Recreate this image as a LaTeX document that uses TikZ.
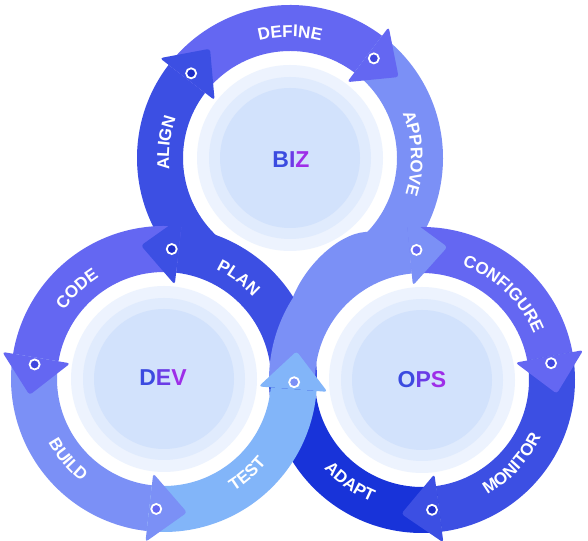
\documentclass[tikz,border=0pt]{standalone}
\usepackage{fontspec}
\setmainfont{Liberation Sans}
\usetikzlibrary{calc,decorations.text}
\definecolor{sky}{HTML}{82B5F9}
\definecolor{peri}{HTML}{7B90F6}
\definecolor{indi}{HTML}{6467F2}
\definecolor{royal}{HTML}{3C4FE3}
\definecolor{navy}{HTML}{1833D9}
\definecolor{dotroyal}{HTML}{3F47DD}
\definecolor{dotnavy}{HTML}{1E2EC6}
\definecolor{holeA}{HTML}{EDF3FE}
\definecolor{holeB}{HTML}{E0EBFD}
\definecolor{holeC}{HTML}{D2E2FC}
\definecolor{gA}{HTML}{3B4BE0}
\definecolor{gB}{HTML}{6A3CE6}
\definecolor{gC}{HTML}{9E2EE8}
\newcommand\lblfont{\fontsize{17}{17}\selectfont\bfseries}
\newcommand\ringseg[4]{\fill[#4] ($(#1)+(#2:107pt)$) arc[start angle=#2,end angle=#3,radius=107pt] -- ($(#1)+(#3:153pt)$) arc[start angle=#3,end angle=#2,radius=153pt] -- cycle;}
\newcommand\arrhead[5]{\fill[#4,rounded corners=3pt] ($(#1)+(#2:95pt)$) -- ($(#1)+(#2:130pt)+(#3:38pt)$) -- ($(#1)+(#2:164pt)$) -- cycle;
 \filldraw[fill=#5,draw=white,line width=1.8pt] ($(#1)+(#2:130pt)+(#3:7pt)$) circle[radius=5pt];}
\newcommand\holes[1]{\fill[holeA] (#1) circle[radius=93pt]; \fill[holeB] (#1) circle[radius=81pt]; \fill[holeC] (#1) circle[radius=70pt];}
\newcommand\arclbl[5]{\path[decorate,decoration={text along path,text align=center,text color=white,text={|\lblfont|#5}}] ($(#1)+(#2:#4)$) arc[start angle=#2,end angle=#3,radius=#4];}
\tikzset{hub/.style={font=\fontsize{23}{23}\selectfont\bfseries, inner sep=0pt}}
\begin{document}
\begin{tikzpicture}[x=1pt,y=1pt]
\useasboundingbox (0,0) rectangle (588,540);
\fill[white] (0,0) rectangle (588,540);
\coordinate (B) at (290,382);
\coordinate (D) at (164,161);
\coordinate (O) at (422,160);
\holes{B}
\holes{D}
\holes{O}
% BIZ ring
\ringseg{B}{228}{142.5}{royal}
\ringseg{B}{142.5}{53}{indi}
\ringseg{B}{53}{-47}{peri}
% DEV ring (part)
\ringseg{D}{-4.5}{83.5}{royal}
\ringseg{D}{83.5}{170.5}{indi}
\ringseg{D}{170.5}{263.5}{peri}
% OPS ring
\ringseg{O}{95.5}{10.5}{indi}
\ringseg{O}{10.5}{-82.5}{royal}
\ringseg{O}{-82.5}{-180}{navy}
\ringseg{O}{180}{95.5}{peri}
% junction between APPROVE and OPS
\fill[peri] (370,308) .. controls (345,310) and (308,280) .. (293,243) -- (322,232) -- (372,280) -- cycle;
% TEST on top
\ringseg{D}{263.5}{355.5}{sky}
% arrow heads
\arrhead{B}{142.5}{52.5}{royal}{dotnavy}
\arrhead{B}{53}{-37}{indi}{dotroyal}
\arrhead{D}{83.5}{173.5}{royal}{dotnavy}
\arrhead{D}{170.5}{260.5}{indi}{dotroyal}
\arrhead{D}{263.5}{353.5}{peri}{indi}
\arrhead{D}{355.5}{85.5}{sky}{peri}
\arrhead{O}{95.5}{5.5}{peri}{indi}
\arrhead{O}{10.5}{-79.5}{indi}{dotroyal}
\arrhead{O}{-82.5}{-172.5}{royal}{dotnavy}
% labels
\arclbl{B}{223}{123}{121pt}{ALIGN}
\arclbl{B}{140}{40}{121pt}{DEFINE}
\arclbl{B}{52}{-48}{121pt}{APPROVE}
\arclbl{D}{184}{84}{121pt}{CODE}
\arclbl{D}{103.6}{3.6}{121pt}{PLAN}
\arclbl{D}{170}{270}{132pt}{BUILD}
\arclbl{D}{-98.6}{1.4}{132pt}{TEST}
\arclbl{O}{101.5}{-8.5}{121pt}{CONFIGURE}
\arclbl{O}{-93}{7}{132pt}{MONITOR}
\arclbl{O}{184.8}{284.8}{132pt}{ADAPT}
\node[hub] (biz) at (291,380) {\textcolor{gA}{B}\textcolor{gB}{I}\textcolor{gC}{Z}};
\node[hub] (dev) at (163,162) {\textcolor{gA}{D}\textcolor{gB}{E}\textcolor{gC}{V}};
\node[hub] (ops) at (422,160) {\textcolor{gA}{O}\textcolor{gB}{P}\textcolor{gC}{S}};
\end{tikzpicture}
\end{document}
